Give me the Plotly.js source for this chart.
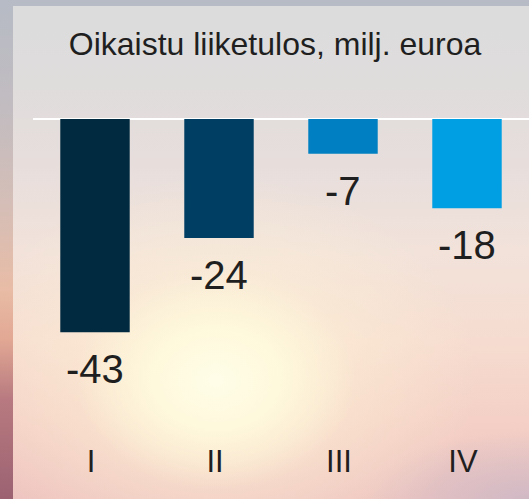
<!DOCTYPE html>
<html>
<head>
<meta charset="utf-8">
<script src="https://cdn.plot.ly/plotly-3.0.1.min.js"></script>
<style>
  html, body { margin: 0; padding: 0; width: 529px; height: 499px; overflow: hidden; }
  #wrap { position: relative; width: 529px; height: 499px;
    background:
      linear-gradient(to bottom, #b6bbc5 0%, #c2bcc0 22%, #d6beb6 42%, #e8bca6 58%, #e2a894 68%, #b87a80 80%, #9c6272 100%);
  }
  #panel { position: absolute; left: 13px; top: 6px; right: 0; bottom: 0;
    background:
      radial-gradient(ellipse 140px 110px at 203px 374px, rgba(255,253,232,1) 0%, rgba(255,251,222,0.85) 45%, rgba(255,248,215,0) 100%),
      radial-gradient(ellipse 260px 200px at 205px 370px, rgba(255,246,214,0.8) 0%, rgba(255,244,214,0.4) 55%, rgba(255,240,210,0) 100%),
      radial-gradient(ellipse 170px 70px at 516px 495px, rgba(200,182,198,0.8) 0%, rgba(200,182,198,0) 100%),
      linear-gradient(to bottom, #dcdcdc 0%, #dfdcdc 16%, #e7dedc 32%, #f2e2da 50%, #f6dcd0 68%, #f4d0c6 84%, #eec4c0 100%);
  }
  #chart { position: absolute; left: 0; top: 0; width: 529px; height: 499px; }
</style>
</head>
<body>
<div id="wrap"><div id="panel"></div><div id="chart"></div></div>
<script>
const categories = ["I", "II", "III", "IV"];
const values = [-43, -24, -7, -18];
const barColors = ["#012a40", "#003e63", "#0080c2", "#009fe3"];
const titleText = "Oikaistu liiketulos, milj. euroa";

const trace = {
  type: "bar",
  x: categories,
  y: values,
  marker: { color: barColors, line: { width: 0 } },
  hoverinfo: "none"
};

const annotations = categories.map((c, i) => ({
  x: c, y: values[i], xref: "x", yref: "y",
  text: String(values[i]),
  showarrow: false,
  yanchor: "middle",
  yshift: -37,
  font: { family: "Liberation Sans, Arial, sans-serif", size: 40, color: "#1f1f1f" }
}));

const layout = {
  width: 529, height: 499,
  margin: { l: 33, r: 0, t: 100, b: 59 },
  paper_bgcolor: "rgba(0,0,0,0)",
  plot_bgcolor: "rgba(0,0,0,0)",
  showlegend: false,
  bargap: 0.44,
  title: {
    text: titleText,
    x: 0.488, xanchor: "center", xref: "paper",
    y: 1 - 43.5 / 499, yanchor: "middle", yref: "container",
    font: { family: "Liberation Sans, Arial, sans-serif", size: 32, color: "#1f1f1f" }
  },
  xaxis: {
    type: "category",
    showgrid: false, zeroline: false, showline: false,
    ticks: "",
    ticklabelshift: -4,
    tickfont: { family: "Liberation Sans, Arial, sans-serif", size: 31, color: "#1f1f1f" }
  },
  yaxis: {
    range: [-64.72, 3.83],
    showgrid: false, showticklabels: false, ticks: "",
    zeroline: true, zerolinecolor: "#ffffff", zerolinewidth: 2,
    showline: false
  },
  annotations: annotations
};

Plotly.newPlot("chart", [trace], layout, { displayModeBar: false, staticPlot: true });
</script>
</body>
</html>
